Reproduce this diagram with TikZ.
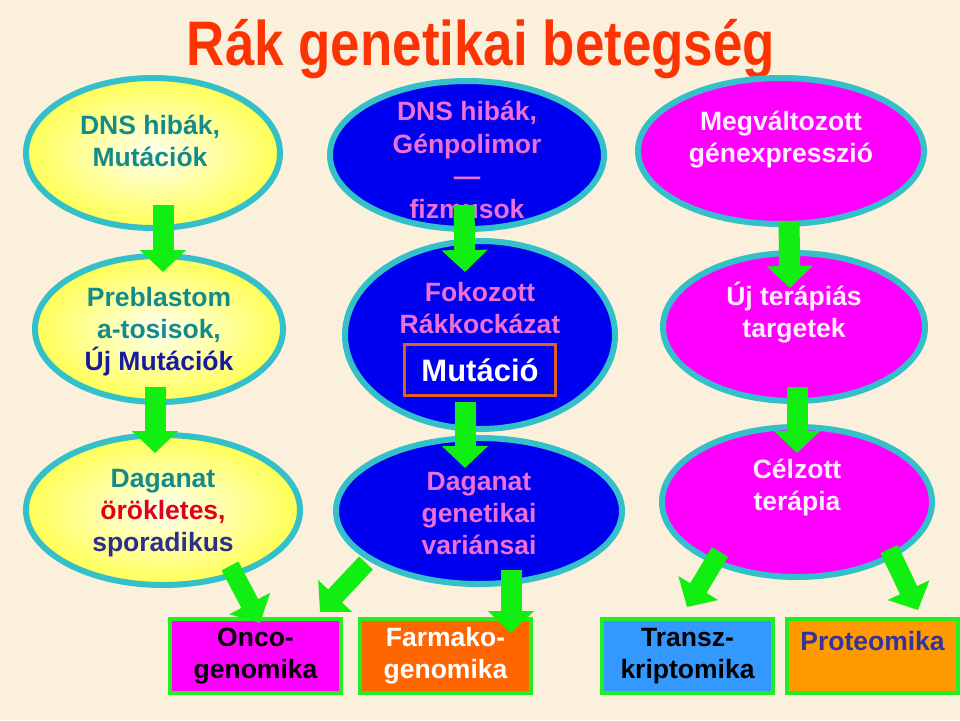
\documentclass[tikz,border=0pt]{standalone}
\usepackage{fontspec}
\usepackage{graphicx}
\setmainfont{Liberation Sans}
\usetikzlibrary{shapes.geometric,arrows.meta}
\definecolor{bgc}{HTML}{FAF0DC}
\definecolor{titlec}{HTML}{FC3404}
\definecolor{tealb}{HTML}{33C0C8}
\definecolor{yelin}{HTML}{FFFFF0}
\definecolor{yelout}{HTML}{FFFF55}
\definecolor{blueE}{HTML}{0000F0}
\definecolor{magE}{HTML}{FF00FF}
\definecolor{tealt}{HTML}{138B8B}
\definecolor{pinkt}{HTML}{EE6FD8}
\definecolor{whpink}{HTML}{FFF0FF}
\definecolor{dblue}{HTML}{1A1AA0}
\definecolor{redt}{HTML}{E0001A}
\definecolor{indigot}{HTML}{2E3088}
\definecolor{protc}{HTML}{333399}
\definecolor{greenA}{HTML}{11EE11}
\definecolor{greenB}{HTML}{22EE22}
\definecolor{orangeM}{HTML}{E06020}
\definecolor{boxmag}{HTML}{FF00FF}
\definecolor{boxor}{HTML}{FF6600}
\definecolor{boxbl}{HTML}{3399FF}
\definecolor{boxor2}{HTML}{FF9900}
\begin{document}
\begin{tikzpicture}[x=1pt,y=-1pt,
  ell/.style={ellipse, draw=tealb, line width=6pt, inner sep=0pt},
  yel/.style={ell, shading=radial, inner color=yelin, outer color=yelout},
  blu/.style={ell, fill=blueE},
  mag/.style={ell, fill=magE},
  txt/.style={font=\fontsize{26.5}{32}\selectfont\bfseries, align=center, inner sep=0pt},
  bbox/.style={draw=greenB, line width=4pt, minimum width=171pt, minimum height=74pt, inner sep=0pt},
  garrow/.style={draw=greenA, line width=21pt, -{Triangle[width=45pt,length=22pt]}},
  darrow/.style={draw=greenA, line width=19pt, -{Triangle[width=45pt,length=22pt]}}
]
\fill[bgc] (0,0) rectangle (960,720);
\useasboundingbox (0,0) rectangle (960,720);

\node[text=titlec, font=\fontsize{63}{70}\selectfont\bfseries, inner sep=0pt, anchor=base] (title) at (481,65) {\scalebox{0.84}[1]{Rák genetikai betegség}};

% ellipses
\node[yel, minimum width=254pt, minimum height=150pt] (e1) at (153,153) {};
\node[blu, minimum width=274pt, minimum height=148pt] (e2) at (467,155) {};
\node[mag, minimum width=286pt, minimum height=146pt] (e3) at (781,151) {};
\node[yel, minimum width=248pt, minimum height=146pt] (e4) at (159,329) {};
\node[blu, minimum width=270pt, minimum height=188pt] (e5) at (480,335) {};
\node[mag, minimum width=262pt, minimum height=148pt] (e6) at (794,327) {};
\node[yel, minimum width=274pt, minimum height=150pt] (e7) at (163,510) {};
\node[blu, minimum width=286pt, minimum height=146pt] (e8) at (479,511) {};
\node[mag, minimum width=270pt, minimum height=150pt] (e9) at (797,502) {};

% texts
\node[txt, text=tealt] (t1) at (150,141) {DNS hibák,\\Mutációk};
\node[txt, text=pinkt, font=\fontsize{26.5}{32.5}\selectfont\bfseries] (t2) at (467,160) {DNS hibák,\\Génpolimor\\—\\fizmusok};
\node[txt, text=whpink] (t3) at (781,140) {Megváltozott\\génexpresszió};
\node[txt, text=tealt] (t4) at (159,332) {Preblastom\\a-tosisok,\\\textcolor{dblue}{Új Mutációk}};
\node[txt, text=pinkt] (t5) at (480,308) {Fokozott\\Rákkockázat};
\node[draw=orangeM, line width=3pt, fill=blueE, minimum width=151pt, minimum height=51pt, inner sep=0pt,
      text=white, font=\fontsize{31}{36}\selectfont\bfseries] (mut) at (480,370) {Mutáció};
\node[txt, text=whpink] (t6) at (794,313) {Új terápiás\\targetek};
\node[txt, text=tealt] (t7) at (163,513) {Daganat\\\textcolor{redt}{örökletes,}\\\textcolor{indigot}{sporadikus}};
\node[txt, text=pinkt] (t8) at (479,514) {Daganat\\genetikai\\variánsai};
\node[txt, text=whpink] (t9) at (797,488) {Célzott\\terápia};

% boxes
\node[bbox, fill=boxmag] (bA) at (255.5,656) {};
\node[bbox, fill=boxor] (bB) at (445.5,656) {};
\node[bbox, fill=boxbl] (bC) at (687.5,656) {};
\node[bbox, fill=boxor2] (bD) at (872.5,656) {};
\node[txt, text=black] (tA) at (bA.center) {Onco-\\genomika};
\node[txt, text=white] (tB) at (bB.center) {Farmako-\\genomika};
\node[txt, text=black] (tC) at (bC.center) {Transz-\\kriptomika};
\node[txt, text=protc] (tD) at (872.5,641) {Proteomika};

% arrows
\draw[garrow] ([shift={(10,-26)}]e1.south) -- ([shift={(4,19)}]e4.north);
\draw[garrow] ([shift={(-4,-18)}]e4.south) -- ([shift={(-8,21)}]e7.north);
\draw[garrow] ([shift={(-3,-27)}]e2.south) -- ([shift={(-15,34)}]e5.north);
\draw[garrow] ([shift={(-15,-30)}]e5.south) -- ([shift={(-14,33)}]e8.north);
\draw[garrow] ([shift={(8,-5)}]e3.south) -- ([shift={(-4,38)}]e6.north);
\draw[garrow] ([shift={(3,-17)}]e6.south) -- ([shift={(0,29)}]e9.north);
\draw[darrow] ([shift={(67,-22)}]e7.south) -- ([shift={(4.5,6)}]bA.north);
\draw[darrow] ([shift={(-113,-24)}]e8.south) -- ([shift={(64.5,-5)}]bA.north);
\draw[garrow] ([shift={(32,-17)}]e8.south) -- ([shift={(65.5,16)}]bB.north);
\draw[darrow] ([shift={(-77,-28)}]e9.south) -- ([shift={(-0.5,-10)}]bC.north);
\draw[darrow] ([shift={(92,-31)}]e9.south) -- ([shift={(45.5,-7)}]bD.north);
\end{tikzpicture}
\end{document}
